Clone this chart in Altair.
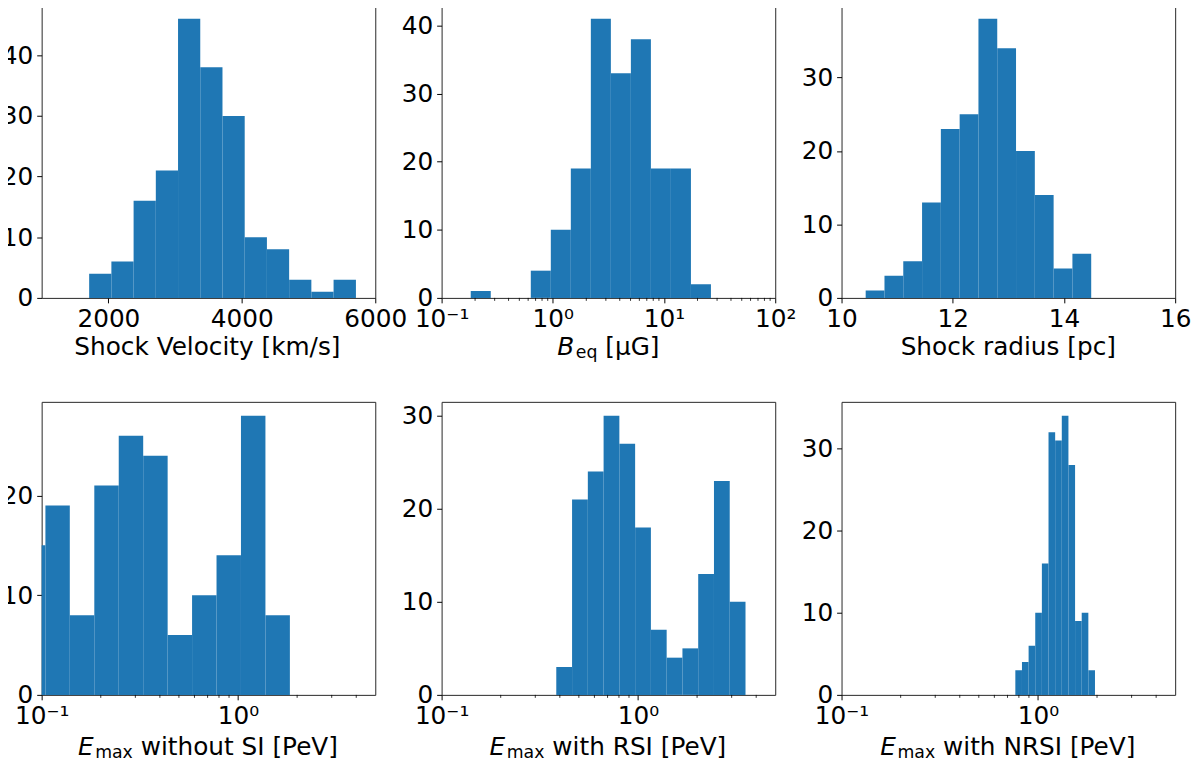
import altair as alt
import pandas as pd

# ---------------- data ----------------
vel_edges = [1712, 2045, 2378, 2711, 3044, 3377, 3710, 4043, 4376, 4709, 5042, 5375, 5710]
vel_counts = [4, 6, 16, 21, 46, 38, 30, 10, 8, 3, 1, 3]

beq_edges = [0.1828, 0.2767, 0.4188, 0.6339, 0.9594, 1.452, 2.198, 3.327, 5.035, 7.621, 11.53, 17.46, 26.42]
beq_counts = [1, 0, 0, 4, 10, 19, 41, 33, 38, 19, 19, 2]

rad_edges = [10.434, 10.772, 11.110, 11.448, 11.786, 12.124, 12.462, 12.800, 13.138, 13.476, 13.814, 14.152, 14.490]
rad_counts = [1, 3, 5, 13, 23, 25, 38, 34, 20, 14, 4, 6]

esi_edges = [0.0784, 0.1045, 0.1391, 0.1854, 0.2469, 0.3289, 0.4381, 0.5834, 0.7772, 1.035, 1.379, 1.837]
esi_counts = [15, 19, 8, 21, 26, 24, 6, 10, 14, 28, 8]

ersi_edges = [0.3837, 0.4617, 0.5555, 0.6683, 0.8040, 0.9672, 1.1637, 1.4000, 1.6844, 2.0265, 2.438, 2.933, 3.529]
ersi_counts = [3, 21, 24, 30, 27, 18, 7, 4, 5, 13, 23, 10]

enrsi_edges = [0.7674, 0.8294, 0.8966, 0.9692, 1.0476, 1.1324, 1.2240, 1.3231, 1.4302, 1.5460, 1.6711, 1.8064, 1.9526]
enrsi_counts = [3, 4, 6, 10, 16, 32, 31, 34, 28, 9, 10, 3]

ymax_list = [48.3, 43.05, 39.9, 29.4, 31.5, 35.7]
yticks_list = [[0, 10, 20, 30, 40], [0, 10, 20, 30, 40], [0, 10, 20, 30],
               [0, 10, 20], [0, 10, 20, 30], [0, 10, 20, 30]]

vel_xticks = [2000, 4000, 6000]
rad_xticks = [10, 12, 14, 16]
beq_xticks = [0.1, 1, 10, 100]
e_xticks = [0.1, 1]
beq_minor = [0.2, 0.3, 0.4, 0.5, 0.6, 0.7, 0.8, 0.9, 2, 3, 4, 5, 6, 7, 8, 9,
             20, 30, 40, 50, 60, 70, 80, 90]
e_minor = [0.2, 0.3, 0.4, 0.5, 0.6, 0.7, 0.8, 0.9, 2, 3, 4]

# ---------------- layout / style ----------------
PW, PH = 337, 296
FS = 25
SUB = 0.7 * FS
BLUE = "#1f77b4"
FONT = "DejaVu Sans"
SPACE = 0.318 * FS

# DejaVu Sans advance widths (em)
CW = {' ': 0.318, 'B': 0.686, 'E': 0.632, 'e': 0.615, 'q': 0.635, 'm': 0.974,
      'a': 0.613, 'x': 0.592, '[': 0.390, ']': 0.390, 'μ': 0.636, 'G': 0.775, 'w': 0.818,
      'i': 0.278, 't': 0.392, 'h': 0.634, 'o': 0.612, 'u': 0.634, 'S': 0.635, 'I': 0.295,
      'R': 0.695, 'N': 0.748, 'P': 0.603, 'V': 0.684, 'c': 0.550, 'k': 0.579, 'l': 0.278,
      'y': 0.592, '/': 0.337, 's': 0.521, 'd': 0.635, 'r': 0.411, 'p': 0.635}


def twidth(s, size):
    return sum(CW.get(ch, 0.6) for ch in s) * size


log_label = ("datum.value < 0.5 ? '10⁻¹' : datum.value < 5 ? '10⁰' : "
             "datum.value < 50 ? '10¹' : '10²'")

# title parts: (text, kind, gap before)
panels = [
    dict(edges=vel_edges, counts=vel_counts, dom=[1000, 6000], log=False, xt=vel_xticks,
         minor=None, title=[("Shock Velocity [km/s]", "n", 0)], ty=58),
    dict(edges=beq_edges, counts=beq_counts, dom=[0.1, 100], log=True, xt=beq_xticks,
         minor=beq_minor, title=[("B", "i", 0), ("eq", "s", 1.5), ("[μG]", "n", SPACE)], ty=58),
    dict(edges=rad_edges, counts=rad_counts, dom=[10, 16], log=False, xt=rad_xticks,
         minor=None, title=[("Shock radius [pc]", "n", 0)], ty=58),
    dict(edges=esi_edges, counts=esi_counts, dom=[0.1, 5], log=True, xt=e_xticks,
         minor=e_minor, title=[("E", "i", 0), ("max", "s", 1.5), ("without SI [PeV]", "n", SPACE)], ty=61),
    dict(edges=ersi_edges, counts=ersi_counts, dom=[0.1, 5], log=True, xt=e_xticks,
         minor=e_minor, title=[("E", "i", 0), ("max", "s", 1.5), ("with RSI [PeV]", "n", SPACE)], ty=61),
    dict(edges=enrsi_edges, counts=enrsi_counts, dom=[0.1, 5], log=True, xt=e_xticks,
         minor=e_minor, title=[("E", "i", 0), ("max", "s", 1.5), ("with NRSI [PeV]", "n", SPACE)], ty=61),
]


def make_panel(k, p):
    df = pd.DataFrame({"x0": p["edges"][:-1], "x1": p["edges"][1:], "n": p["counts"]})
    xscale = alt.Scale(type="log" if p["log"] else "linear", domain=p["dom"], nice=False, zero=False)
    if p["log"]:
        xaxis = alt.Axis(values=p["xt"], title=None, labelExpr=log_label)
    else:
        xaxis = alt.Axis(values=p["xt"], title=None, format="d")
    bars = alt.Chart(df).mark_rect(color=BLUE, clip=True).encode(
        x=alt.X("x0:Q", scale=xscale, axis=xaxis),
        x2="x1:Q",
        y=alt.Y("n:Q", scale=alt.Scale(domain=[0, ymax_list[k]], nice=False),
                axis=alt.Axis(values=yticks_list[k], title=None)),
        y2=alt.datum(0),
    )
    layers = [bars]
    if p["minor"]:
        minor = alt.Chart(pd.DataFrame({"m": p["minor"]})).mark_rule(
            color="black", strokeWidth=0.8, clip=False).encode(
            x=alt.X("m:Q", scale=xscale, axis=xaxis),
            y=alt.value(PH), y2=alt.value(PH + 3))
        layers.append(minor)
    # composite axis title
    widths = []
    for txt, kind, gap in p["title"]:
        size = SUB if kind == "s" else FS
        widths.append(gap + twidth(txt, size))
    total = sum(widths)
    x = PW / 2 - total / 2
    for (txt, kind, gap), w in zip(p["title"], widths):
        size = SUB if kind == "s" else FS
        ybase = PH + p["ty"] + (3 if kind == "s" else 0)
        t = alt.Chart(pd.DataFrame({"t": [txt]})).mark_text(
            align="left", baseline="alphabetic", font=FONT, fontSize=size,
            fontStyle="italic" if kind == "i" else "normal", color="black").encode(
            x=alt.value(x + gap), y=alt.value(ybase), text="t:N")
        layers.append(t)
        x += w
    return alt.layer(*layers).properties(width=PW, height=PH)


charts = [make_panel(k, p) for k, p in enumerate(panels)]

chart = alt.concat(*charts, columns=3, spacing={"row": 105, "column": 67},
                   bounds="flush").properties(
    padding={"left": -8, "top": -8, "right": 0, "bottom": 0},
    background="white",
).configure_view(
    stroke="#262626", strokeWidth=1
).configure_axis(
    labelFont=FONT, labelFontSize=FS, labelColor="black", tickColor="black",
    tickSize=5, tickWidth=1, labelPadding=4, domain=False, grid=False,
    labelFlush=False, labelOverlap=False
)

chart.save("out.html", embed_options={"renderer": "svg", "actions": False})
